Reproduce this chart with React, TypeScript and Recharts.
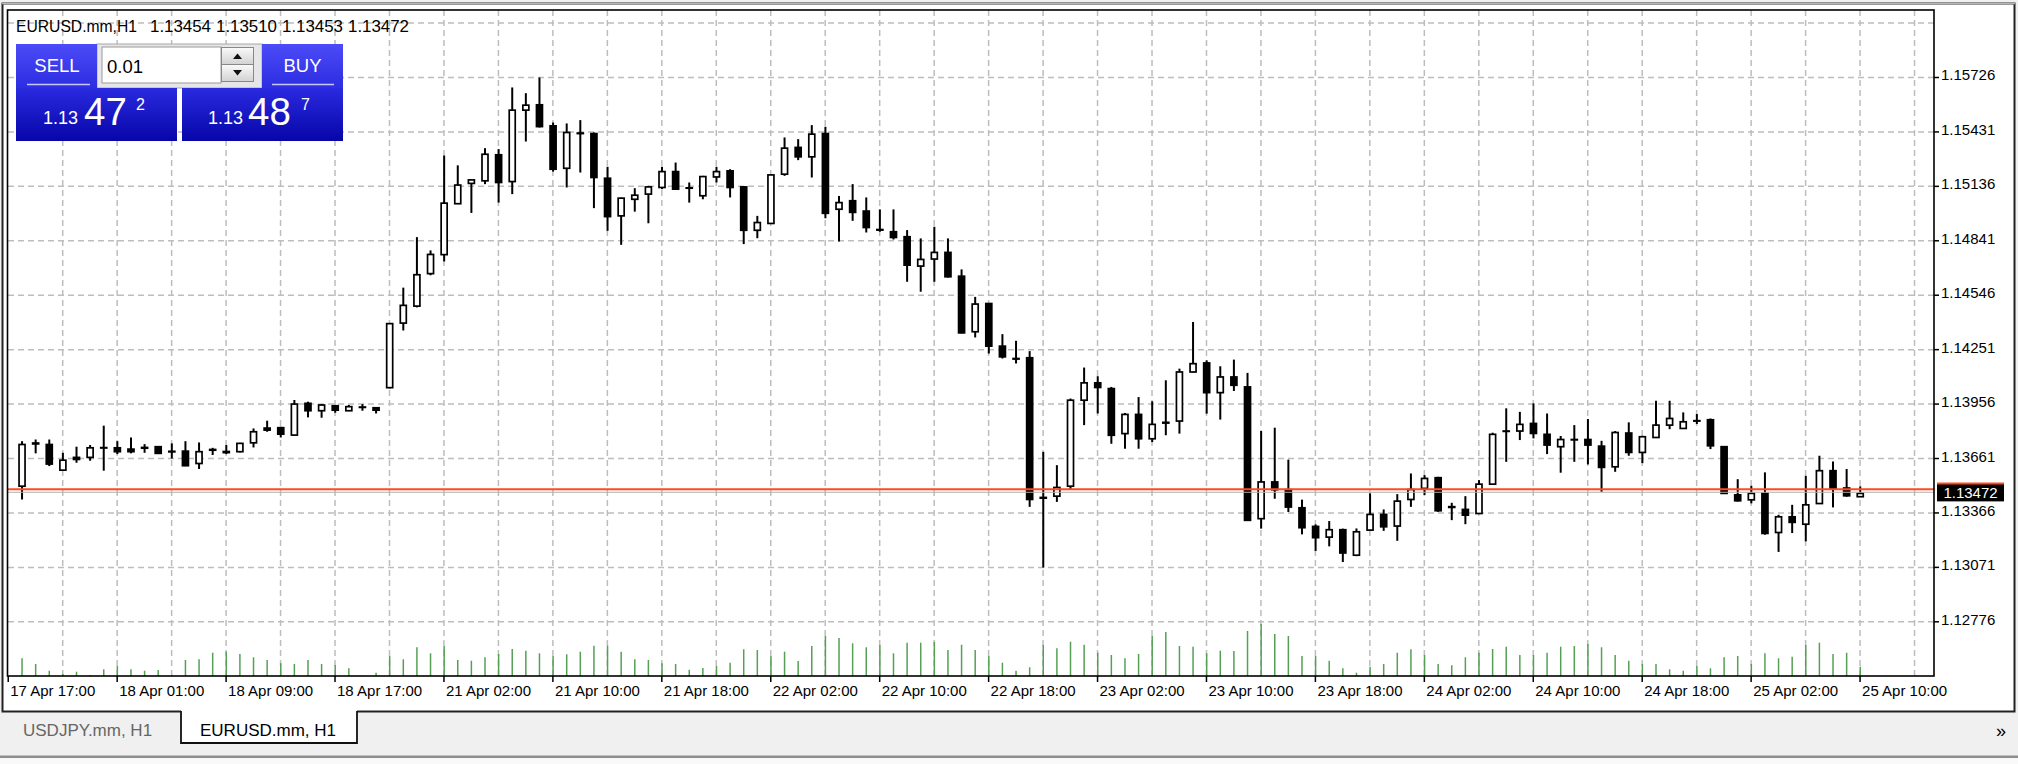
import React from 'react';
import { ComposedChart, Bar, XAxis, YAxis, ReferenceLine, CartesianGrid } from 'recharts';

const FONT = '"Liberation Sans", Arial, sans-serif';
const W = 2018;
const H = 764;

// ---- data (EURUSD.mm, H1) ----
const OPEN = [
  1.13511, 1.13740, 1.13737, 1.13598, 1.13667, 1.13667, 1.13718, 1.13719, 1.13712, 1.13721,
  1.13725, 1.13700, 1.13701, 1.13634, 1.13706, 1.13699, 1.13698, 1.13746, 1.13826, 1.13828,
  1.13788, 1.13960, 1.13920, 1.13947, 1.13920, 1.13938, 1.13936, 1.14045, 1.14395, 1.14487,
  1.14663, 1.14766, 1.15042, 1.15152, 1.15166, 1.15307, 1.15162, 1.15549, 1.15578, 1.15464,
  1.15234, 1.15422, 1.15422, 1.15180, 1.14976, 1.15066, 1.15094, 1.15130, 1.15216, 1.15128,
  1.15085, 1.15187, 1.15220, 1.15133, 1.14898, 1.14935, 1.15202, 1.15347, 1.15296, 1.15422,
  1.15012, 1.15058, 1.15002, 1.14902, 1.14890, 1.14863, 1.14704, 1.14742, 1.14778, 1.14649,
  1.14348, 1.14501, 1.14270, 1.14203, 1.14207, 1.13450, 1.13457, 1.13511, 1.13977, 1.14071,
  1.14040, 1.13796, 1.13900, 1.13768, 1.13853, 1.13864, 1.14130, 1.14179, 1.14018, 1.14103,
  1.14049, 1.13335, 1.13534, 1.13492, 1.13394, 1.13293, 1.13235, 1.13275, 1.13137, 1.13273,
  1.13358, 1.13295, 1.13439, 1.13499, 1.13557, 1.13396, 1.13385, 1.13363, 1.13522, 1.13810,
  1.13810, 1.13851, 1.13792, 1.13725, 1.13764, 1.13764, 1.13728, 1.13616, 1.13799, 1.13694,
  1.13775, 1.13842, 1.13824, 1.13866, 1.13871, 1.13725, 1.13464, 1.13437, 1.13472, 1.13260,
  1.13345, 1.13305, 1.13417, 1.13595, 1.13501, 1.13454,
];
const HIGH = [
  1.13755, 1.13764, 1.13764, 1.13692, 1.13725, 1.13734, 1.13839, 1.13755, 1.13775, 1.13739,
  1.13728, 1.13743, 1.13755, 1.13748, 1.13719, 1.13734, 1.13746, 1.13824, 1.13866, 1.13833,
  1.13978, 1.13969, 1.13956, 1.13951, 1.13951, 1.13956, 1.13938, 1.14395, 1.14587, 1.14861,
  1.14789, 1.15303, 1.15250, 1.15172, 1.15343, 1.15338, 1.15672, 1.15641, 1.15726, 1.15482,
  1.15477, 1.15495, 1.15428, 1.15242, 1.15075, 1.15126, 1.15139, 1.15242, 1.15265, 1.15157,
  1.15193, 1.15242, 1.15229, 1.15136, 1.14976, 1.15200, 1.15401, 1.15392, 1.15468, 1.15459,
  1.15084, 1.15148, 1.15076, 1.15011, 1.15011, 1.14899, 1.14854, 1.14917, 1.14854, 1.14686,
  1.14537, 1.14503, 1.14335, 1.14299, 1.14243, 1.13697, 1.13625, 1.13986, 1.14154, 1.14107,
  1.14049, 1.13908, 1.13994, 1.13971, 1.14085, 1.14148, 1.14401, 1.14193, 1.14161, 1.14197,
  1.14125, 1.13810, 1.13828, 1.13655, 1.13438, 1.13304, 1.13322, 1.13281, 1.13282, 1.13472,
  1.13385, 1.13468, 1.13580, 1.13571, 1.13562, 1.13421, 1.13457, 1.13544, 1.13801, 1.13933,
  1.13914, 1.13960, 1.13905, 1.13783, 1.13842, 1.13875, 1.13757, 1.13810, 1.13857, 1.13784,
  1.13974, 1.13974, 1.13911, 1.13902, 1.13878, 1.13727, 1.13549, 1.13513, 1.13586, 1.13356,
  1.13410, 1.13567, 1.13676, 1.13645, 1.13604, 1.13510,
];
const LOW = [
  1.13439, 1.13689, 1.13620, 1.13595, 1.13638, 1.13649, 1.13595, 1.13685, 1.13689, 1.13692,
  1.13685, 1.13661, 1.13620, 1.13604, 1.13680, 1.13685, 1.13694, 1.13721, 1.13806, 1.13775,
  1.13784, 1.13884, 1.13882, 1.13909, 1.13918, 1.13920, 1.13905, 1.14041, 1.14355, 1.14480,
  1.14654, 1.14729, 1.15040, 1.14992, 1.15148, 1.15048, 1.15094, 1.15379, 1.15455, 1.15216,
  1.15130, 1.15211, 1.15018, 1.14895, 1.14819, 1.14999, 1.14936, 1.15121, 1.15117, 1.15048,
  1.15066, 1.15157, 1.15076, 1.14823, 1.14855, 1.14933, 1.15193, 1.15278, 1.15184, 1.14963,
  1.14837, 1.14949, 1.14886, 1.14890, 1.14848, 1.14619, 1.14565, 1.14619, 1.14642, 1.14339,
  1.14317, 1.14230, 1.14203, 1.14176, 1.13399, 1.13070, 1.13426, 1.13493, 1.13842, 1.13905,
  1.13741, 1.13714, 1.13714, 1.13750, 1.13787, 1.13796, 1.14128, 1.13904, 1.13872, 1.14027,
  1.13324, 1.13281, 1.13443, 1.13371, 1.13250, 1.13160, 1.13185, 1.13100, 1.13132, 1.13269,
  1.13269, 1.13215, 1.13399, 1.13463, 1.13372, 1.13327, 1.13305, 1.13361, 1.13520, 1.13643,
  1.13761, 1.13770, 1.13685, 1.13584, 1.13643, 1.13629, 1.13481, 1.13589, 1.13676, 1.13636,
  1.13773, 1.13820, 1.13822, 1.13848, 1.13712, 1.13470, 1.13428, 1.13418, 1.13248, 1.13155,
  1.13257, 1.13212, 1.13415, 1.13396, 1.13454, 1.13453,
];
const CLOSE = [
  1.13737, 1.13745, 1.13631, 1.13652, 1.13656, 1.13719, 1.13720, 1.13698, 1.13698, 1.13717,
  1.13689, 1.13697, 1.13622, 1.13698, 1.13710, 1.13693, 1.13743, 1.13806, 1.13815, 1.13793,
  1.13956, 1.13920, 1.13951, 1.13923, 1.13942, 1.13940, 1.13923, 1.14392, 1.14491, 1.14657,
  1.14767, 1.15045, 1.15143, 1.15171, 1.15310, 1.15157, 1.15549, 1.15576, 1.15460, 1.15229,
  1.15428, 1.15425, 1.15184, 1.14972, 1.15072, 1.15088, 1.15133, 1.15216, 1.15121, 1.15126,
  1.15189, 1.15216, 1.15130, 1.14898, 1.14940, 1.15198, 1.15343, 1.15296, 1.15419, 1.14990,
  1.15048, 1.14995, 1.14913, 1.14899, 1.14859, 1.14709, 1.14740, 1.14778, 1.14646, 1.14342,
  1.14498, 1.14270, 1.14212, 1.14200, 1.13439, 1.13446, 1.13504, 1.13977, 1.14071, 1.14046,
  1.13787, 1.13900, 1.13768, 1.13846, 1.13857, 1.14130, 1.14175, 1.14018, 1.14103, 1.14058,
  1.13326, 1.13534, 1.13492, 1.13398, 1.13286, 1.13232, 1.13275, 1.13149, 1.13264, 1.13358,
  1.13291, 1.13430, 1.13493, 1.13553, 1.13378, 1.13400, 1.13354, 1.13522, 1.13792, 1.13808,
  1.13846, 1.13797, 1.13734, 1.13764, 1.13762, 1.13734, 1.13613, 1.13802, 1.13694, 1.13779,
  1.13842, 1.13878, 1.13860, 1.13864, 1.13730, 1.13472, 1.13432, 1.13472, 1.13255, 1.13345,
  1.13315, 1.13410, 1.13595, 1.13501, 1.13459, 1.13472,
];
const VOLUME = [
  1770, 1200, 530, 200, 430, 100, 670, 1000, 670, 530,
  600, 100, 1600, 1670, 2330, 2430, 2200, 1870, 1600, 1270,
  1200, 1600, 1200, 1100, 770, 50, 330, 2000, 1670, 2870,
  2270, 3000, 1600, 1530, 1870, 2200, 2700, 2530, 2270, 2000,
  2170, 2430, 3030, 3030, 2430, 1670, 1600, 1270, 1200, 630,
  800, 1000, 1330, 2670, 2600, 2000, 2430, 1500, 3000, 4000,
  3800, 3270, 2870, 3100, 2270, 3330, 3330, 3400, 2600, 3130,
  2600, 2000, 1330, 530, 870, 3100, 2770, 3430, 3130, 2330,
  2100, 1770, 2200, 4000, 4400, 3000, 2930, 2270, 2530, 2500,
  4500, 5200, 4200, 4000, 2000, 2000, 1530, 770, 330, 930,
  1200, 2330, 2670, 2100, 1200, 1070, 1870, 2330, 2700, 2930,
  2100, 2100, 2330, 2930, 3000, 3200, 2870, 2100, 1530, 1200,
  1200, 670, 530, 1000, 770, 1870, 2000, 1200, 2270, 1770,
  1930, 3100, 3330, 2200, 2330, 930,
];

const TIME_TICKS = [-1, 7, 15, 23, 31, 39, 47, 55, 63, 71, 79, 87, 95, 103, 111, 119, 127, 135];
const TIME_LABELS = [
  '17 Apr 17:00', '18 Apr 01:00', '18 Apr 09:00', '18 Apr 17:00', '21 Apr 02:00', '21 Apr 10:00',
  '21 Apr 18:00', '22 Apr 02:00', '22 Apr 10:00', '22 Apr 18:00', '23 Apr 02:00', '23 Apr 10:00',
  '23 Apr 18:00', '24 Apr 02:00', '24 Apr 10:00', '24 Apr 18:00', '25 Apr 02:00', '25 Apr 10:00',
];
const PRICE_TICKS = [1.15726, 1.15431, 1.15136, 1.14841, 1.14546, 1.14251, 1.13956, 1.13661, 1.13366, 1.13071, 1.12776];
const GRID_PRICES = [1.16021, ...PRICE_TICKS];
const GRID_BARS = [3, 7, 11, 15, 19, 23, 27, 31, 35, 39, 43, 47, 51, 55, 59, 63, 67, 71, 75, 79, 83, 87, 91, 95, 99, 103, 107, 111, 115, 119, 123, 127, 131, 135, 139];

const SYMBOL = 'EURUSD.mm,H1';
const LAST_OHLC = ['1.13454', '1.13510', '1.13453', '1.13472'];
const BID = 1.13472;
const BID_LABEL = '1.13472';
const BID_LINE = 1.13494;
const ASK_LINE = 1.13478;
const LOT = '0.01';
const TABS = ['USDJPY.mm, H1', 'EURUSD.mm, H1'];

const X_DOMAIN: [number, number] = [-1.0172, 140.43];
const Y_DOMAIN: [number, number] = [1.124823, 1.160918];
const VOL_DOMAIN: [number, number] = [0, 66600];

const data = OPEN.map((o, i) => ({
  bar: i,
  o,
  h: HIGH[i],
  l: LOW[i],
  c: CLOSE[i],
  range: [LOW[i], HIGH[i]],
  vol: VOLUME[i],
}));

function Candle(props: any) {
  const { x, y, width, height } = props;
  const p = props.payload ?? props;
  if (x == null || y == null || p == null) return null;
  const top = Math.min(y, y + height);
  const span = Math.abs(height);
  const ppu = span / (p.h - p.l);
  const yO = top + (p.h - p.o) * ppu;
  const yC = top + (p.h - p.c) * ppu;
  const cx = x + width / 2;
  const bTop = Math.min(yO, yC);
  const bH = Math.max(Math.abs(yO - yC), 0.01);
  const up = p.c >= p.o;
  return (
    <g>
      <line x1={cx} x2={cx} y1={top} y2={top + span} stroke="#000" strokeWidth={2} />
      <rect x={cx - 3} y={bTop} width={6} height={bH} fill={up ? '#fff' : '#000'} stroke="#000" strokeWidth={1.7} />
    </g>
  );
}

function VolLine(props: any) {
  const { x, y, width, height } = props;
  if (x == null || y == null) return null;
  const cx = x + width / 2;
  return <line x1={cx} x2={cx} y1={y} y2={y + height} stroke="#55a055" strokeWidth={1.5} />;
}

function TimeTick(props: any) {
  const { x, y, payload } = props;
  const idx = TIME_TICKS.indexOf(payload.value);
  const label = idx >= 0 ? TIME_LABELS[idx] : '';
  return (
    <g>
      <line x1={x} x2={x} y1={y} y2={y + 6} stroke="#000" strokeWidth={1.5} />
      <text x={x + 2} y={y + 20} textAnchor="start" fontSize={15} fontFamily={FONT} fill="#000">
        {label}
      </text>
    </g>
  );
}

function PriceTick(props: any) {
  const { x, y, payload } = props;
  return (
    <g>
      <line x1={x} x2={x + 5} y1={y} y2={y} stroke="#000" strokeWidth={1.5} />
      <text x={x + 7} y={y + 3} textAnchor="start" fontSize={15} fontFamily={FONT} fill="#000">
        {payload.value.toFixed(5)}
      </text>
    </g>
  );
}

// label box drawn at the bid price on the right-hand price scale
function BidBox(props: any) {
  const vb = props.viewBox || {};
  const bx = (vb.x ?? 0) + (vb.width ?? 0) + 3;
  const cy = vb.y ?? 0;
  return (
    <g>
      <rect x={bx} y={cy - 10} width={67} height={18} fill="#000" />
      <line x1={bx} x2={bx + 67} y1={cy - 10} y2={cy - 10} stroke="#ff4a1f" strokeWidth={2} />
      <text x={bx + 33.5} y={cy + 4.5} textAnchor="middle" fontSize={15} fontFamily={FONT} fill="#fff">
        {BID_LABEL}
      </text>
    </g>
  );
}

function Panel() {
  return (
    <g>
      <defs>
        <linearGradient id="gTop" x1="0" y1="0" x2="0" y2="1">
          <stop offset="0" stopColor="#4b4bf7" />
          <stop offset="1" stopColor="#2d2de2" />
        </linearGradient>
        <linearGradient id="gBot" x1="0" y1="0" x2="0" y2="1">
          <stop offset="0" stopColor="#2a2ae0" />
          <stop offset="1" stopColor="#0606a8" />
        </linearGradient>
        <linearGradient id="gSpin" x1="0" y1="0" x2="0" y2="1">
          <stop offset="0" stopColor="#fafafa" />
          <stop offset="1" stopColor="#d2d2d2" />
        </linearGradient>
      </defs>
      <rect x={97} y={44} width={165} height={44} fill="#e6e6e6" stroke="#a8a8a8" strokeWidth={1} />
      <rect x={102} y={47} width={119} height={36} fill="#fff" stroke="#9a9a9a" strokeWidth={1} />
      <rect x={221.5} y={47.5} width={32} height={17} fill="url(#gSpin)" stroke="#888" strokeWidth={1} />
      <rect x={221.5} y={64.5} width={32} height={17} fill="url(#gSpin)" stroke="#888" strokeWidth={1} />
      <path d="M233,59 L242,59 L237.5,53.5 Z" fill="#111" />
      <path d="M233,70 L242,70 L237.5,75.5 Z" fill="#111" />
      <text x={107} y={72.5} fontSize={18.5} fontFamily={FONT} fill="#000">{LOT}</text>
      <rect x={16} y={44} width={81} height={44} fill="url(#gTop)" />
      <rect x={16} y={88} width={161} height={53} fill="url(#gBot)" />
      <line x1={27} x2={90} y1={84.5} y2={84.5} stroke="#c8c8ff" strokeWidth={1.3} />
      <text x={57} y={72} textAnchor="middle" fontSize={18.5} fontFamily={FONT} fill="#fff">SELL</text>
      <text x={43} y={123.5} fontSize={18} fontFamily={FONT} fill="#fff">1.13</text>
      <text x={84} y={124.5} fontSize={38.5} fontFamily={FONT} fill="#fff">47</text>
      <text x={136} y={110} fontSize={16} fontFamily={FONT} fill="#fff">2</text>
      <rect x={262} y={44} width={81} height={44} fill="url(#gTop)" />
      <rect x={182} y={88} width={161} height={53} fill="url(#gBot)" />
      <line x1={272} x2={334} y1={84.5} y2={84.5} stroke="#c8c8ff" strokeWidth={1.3} />
      <text x={302.5} y={72} textAnchor="middle" fontSize={18.5} fontFamily={FONT} fill="#fff">BUY</text>
      <text x={208} y={123.5} fontSize={18} fontFamily={FONT} fill="#fff">1.13</text>
      <text x={248} y={124.5} fontSize={38.5} fontFamily={FONT} fill="#fff">48</text>
      <text x={301} y={110} fontSize={16} fontFamily={FONT} fill="#fff">7</text>
    </g>
  );
}

export default function App() {
  return (
    <div style={{ position: 'absolute', left: 0, top: 0, width: W, height: H, background: '#f0f0f0', overflow: 'hidden' }}>
      <svg width={W} height={H} style={{ position: 'absolute', left: 0, top: 0 }}>
        <rect x={2.5} y={3.5} width={2012} height={708} fill="#fff" stroke="#222" strokeWidth={2} />
        <line x1={2} x2={2015} y1={3.5} y2={3.5} stroke="#b5b5b5" strokeWidth={1.5} />
      </svg>
      <div style={{ position: 'absolute', left: 0, top: 0 }}>
        <ComposedChart width={W} height={H} data={data} margin={{ top: 10, left: 8, right: 4, bottom: 58 }}>
          <CartesianGrid
            xAxisId="p"
            yAxisId="p"
            horizontalValues={GRID_PRICES}
            verticalValues={GRID_BARS}
            stroke="#bdbdbd"
            strokeWidth={1.5}
            strokeDasharray="6 4"
          />
          <XAxis
            xAxisId="p"
            dataKey="bar"
            type="number"
            domain={X_DOMAIN}
            allowDataOverflow
            ticks={TIME_TICKS}
            interval={0}
            height={30}
            tick={<TimeTick />}
            tickLine={false}
            axisLine={false}
            tickSize={0}
            tickMargin={0}
          />
          <XAxis xAxisId="v" dataKey="bar" type="number" domain={X_DOMAIN} allowDataOverflow hide />
          <YAxis
            yAxisId="p"
            orientation="right"
            type="number"
            domain={Y_DOMAIN}
            allowDataOverflow
            ticks={PRICE_TICKS}
            interval={0}
            width={80}
            tick={<PriceTick />}
            tickLine={false}
            axisLine={false}
            tickSize={0}
            tickMargin={0}
          />
          <YAxis yAxisId="v" type="number" domain={VOL_DOMAIN} allowDataOverflow hide />
          <Bar xAxisId="v" yAxisId="v" dataKey="vol" barSize={2} shape={<VolLine />} isAnimationActive={false} />
          <Bar xAxisId="p" yAxisId="p" dataKey="range" barSize={8} shape={<Candle />} isAnimationActive={false} />
          <ReferenceLine xAxisId="p" yAxisId="p" y={ASK_LINE} stroke="#b0b0b0" strokeWidth={1} />
          <ReferenceLine xAxisId="p" yAxisId="p" y={BID_LINE} stroke="#ff4a1f" strokeWidth={2} />
          <ReferenceLine xAxisId="p" yAxisId="p" y={BID} stroke="none" strokeOpacity={0} label={<BidBox />} />
        </ComposedChart>
      </div>
      <svg width={W} height={H} style={{ position: 'absolute', left: 0, top: 0, pointerEvents: 'none' }}>
        <rect x={7.5} y={10} width={1926.5} height={666} fill="none" stroke="#000" strokeWidth={1.6} />
        <text x={16} y={31.5} fontSize={16} fontFamily={FONT} fill="#000" textLength={121} lengthAdjust="spacingAndGlyphs">{SYMBOL}</text>
        {LAST_OHLC.map((t, i) => (
          <text key={t + i} x={150 + i * 66} y={31.5} fontSize={16.5} fontFamily={FONT} fill="#000" textLength={61} lengthAdjust="spacingAndGlyphs">{t}</text>
        ))}
        <Panel />
        <rect x={181} y={709} width={176} height={34} fill="#fff" />
        <path d="M181,711 L181,743 L357,743 L357,711" fill="none" stroke="#111" strokeWidth={1.8} />
        <text x={23} y={736} fontSize={17} fontFamily={FONT} fill="#666">{TABS[0]}</text>
        <text x={200} y={736} fontSize={17} fontFamily={FONT} fill="#000">{TABS[1]}</text>
        <text x={1996} y={737} fontSize={18} fontFamily={FONT} fill="#000">»</text>
        <rect x={0} y={755.5} width={W} height={2.5} fill="#8e8e8e" />
        <rect x={0} y={758} width={W} height={6} fill="#f9f9f9" />
      </svg>
    </div>
  );
}
